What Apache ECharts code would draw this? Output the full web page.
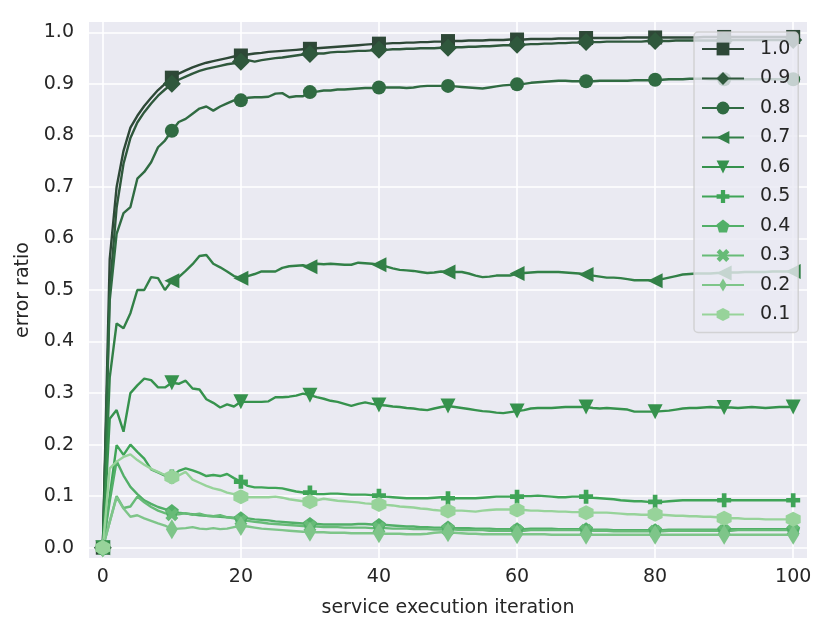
<!DOCTYPE html>
<html>
<head>
  <meta charset="utf-8">
  <title>error ratio</title>
  <script src="https://cdn.jsdelivr.net/npm/echarts@6/dist/echarts.min.js"></script>
  <style>
    html, body { margin: 0; padding: 0; background: #fff; }
    #main { width: 830px; height: 634px; }
  </style>
</head>
<body>
  <div id="main"></div>
  <script>
    // service execution iteration (x)
    var iterations = [0, 1, 2, 3, 4, 5, 6, 7, 8, 9, 10, 11, 12, 13, 14, 15, 16, 17, 18, 19, 20,
      21, 22, 23, 24, 25, 26, 27, 28, 29, 30, 31, 32, 33, 34, 35, 36, 37, 38, 39, 40,
      41, 42, 43, 44, 45, 46, 47, 48, 49, 50, 51, 52, 53, 54, 55, 56, 57, 58, 59, 60,
      61, 62, 63, 64, 65, 66, 67, 68, 69, 70, 71, 72, 73, 74, 75, 76, 77, 78, 79, 80,
      81, 82, 83, 84, 85, 86, 87, 88, 89, 90, 91, 92, 93, 94, 95, 96, 97, 98, 99, 100];

    var seriesNames = ['1.0', '0.9', '0.8', '0.7', '0.6', '0.5', '0.4', '0.3', '0.2', '0.1'];

    var err10 = [0, 0.56, 0.70, 0.77, 0.815, 0.838, 0.857, 0.873, 0.888, 0.900, 0.912,
      0.920, 0.926, 0.932, 0.937, 0.941, 0.944, 0.947, 0.950, 0.953, 0.955,
      0.957, 0.959, 0.960, 0.962, 0.963, 0.964, 0.965, 0.966, 0.967, 0.968,
      0.969, 0.970, 0.971, 0.972, 0.973, 0.974, 0.975, 0.976, 0.977, 0.978,
      0.978, 0.979, 0.979, 0.980, 0.980, 0.981, 0.981, 0.982, 0.982, 0.983,
      0.983, 0.983, 0.984, 0.984, 0.984, 0.985, 0.985, 0.985, 0.986, 0.986,
      0.986, 0.987, 0.987, 0.987, 0.987, 0.988, 0.988, 0.988, 0.988, 0.989,
      0.989, 0.989, 0.989, 0.989, 0.989, 0.990, 0.990, 0.990, 0.990, 0.990,
      0.990, 0.990, 0.990, 0.990, 0.990, 0.990, 0.991, 0.991, 0.991, 0.991,
      0.991, 0.991, 0.991, 0.991, 0.991, 0.991, 0.991, 0.991, 0.991, 0.991];

    var err09 = [0, 0.50, 0.66, 0.745, 0.795, 0.825, 0.845, 0.862, 0.877, 0.889, 0.900,
      0.908, 0.914, 0.920, 0.925, 0.929, 0.932, 0.935, 0.938, 0.940, 0.943,
      0.946, 0.943, 0.946, 0.948, 0.950, 0.951, 0.953, 0.955, 0.957, 0.958,
      0.959, 0.959, 0.961, 0.962, 0.962, 0.963, 0.964, 0.964, 0.965, 0.966,
      0.966, 0.967, 0.967, 0.968, 0.968, 0.969, 0.969, 0.969, 0.970, 0.970,
      0.971, 0.971, 0.972, 0.972, 0.973, 0.973, 0.974, 0.975, 0.975, 0.976,
      0.976, 0.977, 0.977, 0.978, 0.978, 0.979, 0.979, 0.980, 0.980, 0.981,
      0.981, 0.981, 0.982, 0.982, 0.982, 0.982, 0.982, 0.982, 0.983, 0.983,
      0.983, 0.983, 0.984, 0.984, 0.984, 0.984, 0.984, 0.984, 0.984, 0.984,
      0.985, 0.985, 0.985, 0.985, 0.985, 0.985, 0.985, 0.985, 0.985, 0.985];

    var err08 = [0, 0.48, 0.609, 0.649, 0.661, 0.716, 0.729, 0.748, 0.777, 0.790, 0.809,
      0.826, 0.832, 0.842, 0.852, 0.856, 0.848, 0.856, 0.862, 0.868, 0.868,
      0.873, 0.874, 0.874, 0.875, 0.881, 0.882, 0.874, 0.876, 0.876, 0.884,
      0.885, 0.887, 0.887, 0.889, 0.889, 0.890, 0.891, 0.892, 0.892, 0.893,
      0.893, 0.893, 0.893, 0.892, 0.893, 0.895, 0.896, 0.896, 0.896, 0.896,
      0.895, 0.894, 0.893, 0.892, 0.891, 0.893, 0.895, 0.897, 0.898, 0.899,
      0.900, 0.902, 0.903, 0.904, 0.905, 0.906, 0.906, 0.905, 0.905, 0.905,
      0.905, 0.906, 0.906, 0.906, 0.906, 0.906, 0.907, 0.907, 0.907, 0.908,
      0.908, 0.909, 0.909, 0.909, 0.910, 0.910, 0.910, 0.909, 0.909, 0.909,
      0.909, 0.909, 0.909, 0.909, 0.909, 0.909, 0.909, 0.909, 0.909, 0.909];

    var err07 = [0, 0.33, 0.435, 0.426, 0.455, 0.500, 0.500, 0.525, 0.523, 0.500, 0.518,
      0.525, 0.537, 0.550, 0.566, 0.568, 0.551, 0.544, 0.536, 0.527, 0.523,
      0.527, 0.531, 0.536, 0.536, 0.536, 0.543, 0.546, 0.547, 0.548, 0.545,
      0.551, 0.550, 0.551, 0.550, 0.549, 0.549, 0.553, 0.552, 0.551, 0.549,
      0.546, 0.542, 0.539, 0.538, 0.537, 0.535, 0.533, 0.534, 0.536, 0.535,
      0.535, 0.535, 0.532, 0.528, 0.525, 0.526, 0.528, 0.528, 0.528, 0.532,
      0.533, 0.534, 0.535, 0.535, 0.535, 0.535, 0.534, 0.533, 0.532, 0.530,
      0.528, 0.526, 0.524, 0.524, 0.523, 0.521, 0.519, 0.519, 0.519, 0.518,
      0.521, 0.524, 0.527, 0.530, 0.531, 0.532, 0.532, 0.532, 0.533, 0.533,
      0.534, 0.534, 0.535, 0.535, 0.535, 0.535, 0.536, 0.536, 0.536, 0.536];

    var err06 = [0, 0.250, 0.267, 0.225, 0.300, 0.315, 0.328, 0.325, 0.311, 0.311, 0.320,
      0.318, 0.324, 0.309, 0.307, 0.288, 0.281, 0.272, 0.278, 0.274, 0.283,
      0.283, 0.283, 0.283, 0.284, 0.292, 0.292, 0.293, 0.295, 0.299, 0.296,
      0.292, 0.289, 0.285, 0.283, 0.279, 0.275, 0.279, 0.282, 0.279, 0.277,
      0.276, 0.274, 0.273, 0.271, 0.270, 0.268, 0.267, 0.270, 0.273, 0.275,
      0.273, 0.271, 0.269, 0.267, 0.265, 0.264, 0.262, 0.261, 0.263, 0.265,
      0.267, 0.270, 0.271, 0.271, 0.271, 0.272, 0.273, 0.273, 0.273, 0.273,
      0.271, 0.270, 0.271, 0.270, 0.269, 0.268, 0.264, 0.264, 0.264, 0.264,
      0.265, 0.266, 0.268, 0.270, 0.271, 0.271, 0.272, 0.273, 0.272, 0.272,
      0.272, 0.271, 0.272, 0.273, 0.272, 0.271, 0.272, 0.273, 0.273, 0.273];

    var err05 = [0, 0.100, 0.199, 0.180, 0.200, 0.186, 0.173, 0.152, 0.146, 0.140, 0.138,
      0.149, 0.154, 0.150, 0.145, 0.139, 0.141, 0.139, 0.143, 0.135, 0.128,
      0.120, 0.117, 0.117, 0.116, 0.116, 0.115, 0.112, 0.109, 0.107, 0.107,
      0.104, 0.104, 0.105, 0.105, 0.104, 0.103, 0.103, 0.103, 0.102, 0.101,
      0.099, 0.098, 0.097, 0.096, 0.096, 0.096, 0.096, 0.097, 0.098, 0.096,
      0.096, 0.096, 0.096, 0.096, 0.097, 0.098, 0.099, 0.099, 0.099, 0.099,
      0.100, 0.100, 0.101, 0.100, 0.099, 0.098, 0.098, 0.099, 0.099, 0.099,
      0.097, 0.096, 0.095, 0.094, 0.092, 0.091, 0.090, 0.090, 0.089, 0.089,
      0.089, 0.090, 0.091, 0.092, 0.092, 0.092, 0.092, 0.092, 0.092, 0.092,
      0.092, 0.092, 0.092, 0.092, 0.092, 0.092, 0.092, 0.092, 0.092, 0.092];

    var err04 = [0, 0.090, 0.168, 0.140, 0.118, 0.104, 0.092, 0.085, 0.079, 0.075, 0.071,
      0.068, 0.066, 0.065, 0.063, 0.062, 0.061, 0.060, 0.059, 0.058, 0.057,
      0.057, 0.055, 0.054, 0.053, 0.051, 0.050, 0.049, 0.048, 0.047, 0.046,
      0.046, 0.045, 0.045, 0.045, 0.045, 0.045, 0.046, 0.046, 0.045, 0.044,
      0.044, 0.043, 0.042, 0.041, 0.041, 0.040, 0.040, 0.039, 0.039, 0.039,
      0.038, 0.038, 0.038, 0.037, 0.037, 0.037, 0.036, 0.036, 0.036, 0.036,
      0.036, 0.037, 0.037, 0.037, 0.037, 0.036, 0.036, 0.036, 0.036, 0.036,
      0.035, 0.035, 0.035, 0.034, 0.034, 0.034, 0.034, 0.034, 0.034, 0.034,
      0.034, 0.035, 0.035, 0.035, 0.035, 0.035, 0.035, 0.035, 0.035, 0.035,
      0.036, 0.036, 0.036, 0.036, 0.036, 0.036, 0.036, 0.036, 0.036, 0.036];

    var err03 = [0, 0.050, 0.100, 0.077, 0.080, 0.099, 0.088, 0.079, 0.072, 0.067, 0.064,
      0.065, 0.067, 0.064, 0.066, 0.062, 0.061, 0.063, 0.059, 0.057, 0.053,
      0.052, 0.050, 0.049, 0.047, 0.046, 0.045, 0.044, 0.043, 0.042, 0.041,
      0.041, 0.040, 0.040, 0.040, 0.039, 0.039, 0.039, 0.039, 0.038, 0.038,
      0.038, 0.037, 0.037, 0.037, 0.036, 0.036, 0.036, 0.035, 0.035, 0.035,
      0.035, 0.034, 0.034, 0.034, 0.034, 0.033, 0.033, 0.033, 0.033, 0.033,
      0.033, 0.034, 0.034, 0.034, 0.034, 0.034, 0.034, 0.034, 0.034, 0.034,
      0.033, 0.033, 0.033, 0.032, 0.032, 0.032, 0.032, 0.032, 0.032, 0.032,
      0.032, 0.033, 0.033, 0.033, 0.033, 0.033, 0.033, 0.033, 0.033, 0.033,
      0.033, 0.034, 0.034, 0.034, 0.034, 0.034, 0.034, 0.034, 0.034, 0.034];

    var err02 = [0, 0.050, 0.098, 0.076, 0.060, 0.063, 0.057, 0.052, 0.047, 0.043, 0.036,
      0.037, 0.038, 0.040, 0.037, 0.036, 0.038, 0.036, 0.037, 0.040, 0.042,
      0.041, 0.039, 0.037, 0.036, 0.035, 0.034, 0.033, 0.032, 0.031, 0.031,
      0.030, 0.030, 0.029, 0.029, 0.029, 0.028, 0.028, 0.028, 0.028, 0.028,
      0.027, 0.027, 0.027, 0.026, 0.026, 0.026, 0.027, 0.029, 0.030, 0.030,
      0.029, 0.028, 0.027, 0.027, 0.026, 0.026, 0.026, 0.026, 0.026, 0.026,
      0.026, 0.026, 0.026, 0.026, 0.025, 0.025, 0.025, 0.025, 0.025, 0.025,
      0.025, 0.025, 0.025, 0.025, 0.025, 0.025, 0.025, 0.025, 0.025, 0.025,
      0.025, 0.025, 0.025, 0.025, 0.025, 0.025, 0.025, 0.025, 0.025, 0.025,
      0.025, 0.025, 0.025, 0.025, 0.025, 0.025, 0.025, 0.025, 0.025, 0.025];

    var err01 = [0, 0.154, 0.167, 0.176, 0.181, 0.170, 0.161, 0.153, 0.147, 0.141, 0.137,
      0.140, 0.147, 0.132, 0.126, 0.120, 0.115, 0.112, 0.107, 0.104, 0.099,
      0.098, 0.098, 0.098, 0.098, 0.099, 0.097, 0.094, 0.092, 0.090, 0.089,
      0.092, 0.095, 0.093, 0.091, 0.090, 0.089, 0.088, 0.086, 0.085, 0.084,
      0.083, 0.082, 0.080, 0.079, 0.078, 0.076, 0.075, 0.073, 0.072, 0.071,
      0.072, 0.072, 0.071, 0.070, 0.072, 0.073, 0.074, 0.074, 0.074, 0.073,
      0.073, 0.072, 0.072, 0.071, 0.071, 0.070, 0.070, 0.069, 0.069, 0.068,
      0.068, 0.068, 0.068, 0.067, 0.066, 0.065, 0.065, 0.064, 0.064, 0.065,
      0.064, 0.063, 0.062, 0.062, 0.061, 0.061, 0.060, 0.060, 0.059, 0.057,
      0.057, 0.057, 0.056, 0.056, 0.056, 0.055, 0.055, 0.055, 0.055, 0.055];

    var xTicks = [0, 20, 40, 60, 80, 100];
    var yTicks = [0, 0.1, 0.2, 0.3, 0.4, 0.5, 0.6, 0.7, 0.8, 0.9, 1.0];

    var allValues = [err10, err09, err08, err07, err06, err05, err04, err03, err02, err01];

    // seaborn Greens_d, dark -> light
    var colors = ['#2e4837', '#2f583c', '#306b42', '#328047', '#36924d', '#3fa457',
      '#52af68', '#67bb77', '#7ec589', '#97d39a'];

    // matplotlib markers: s D o < v P p X d h
    var markers = [
      { symbol: 'rect', size: 14 },
      { symbol: 'diamond', size: 18 },
      { symbol: 'circle', size: 14 },
      { symbol: 'path://M0,5 L10,0 L10,10 Z', size: 15 },
      { symbol: 'path://M0,0 L10,0 L5,10 Z', size: 15 },
      { symbol: 'path://M2,0 H4 V2 H6 V4 H4 V6 H2 V4 H0 V2 H2 Z', size: 14 },
      { symbol: 'path://M50,0 L97.6,34.5 L79.4,90.5 L20.6,90.5 L2.4,34.5 Z', size: 14 },
      { symbol: 'path://M1,0 L2,1 L3,0 L4,1 L3,2 L4,3 L3,4 L2,3 L1,4 L0,3 L1,2 L0,1 Z', size: 13 },
      { symbol: 'path://M0,5 M10,5 M5,0 L8,5 L5,10 L2,5 Z', size: 20 },
      { symbol: 'path://M43.3,0 L86.6,25 L86.6,75 L43.3,100 L0,75 L0,25 Z', size: 15 }
    ];

    var textColor = '#262626';
    var fontFamily = 'DejaVu Sans';

    var myChart = echarts.init(document.getElementById('main'));

    var series = seriesNames.map(function (name, k) {
      var vals = allValues[k];
      return {
        name: name,
        type: 'line',
        symbol: markers[k].symbol,
        symbolSize: markers[k].size,
        showSymbol: true,
        lineStyle: { color: colors[k], width: 2.4 },
        itemStyle: { color: colors[k], opacity: 1 },
        emphasis: { disabled: true },
        // markers only every 10th iteration
        data: iterations.map(function (x, i) {
          var item = { value: [x, vals[i]] };
          if (x % 10 !== 0) item.symbol = 'none';
          return item;
        })
      };
    });

    var option = {
      animation: false,
      backgroundColor: '#ffffff',
      textStyle: { fontFamily: fontFamily, color: textColor },
      grid: {
        left: 89,
        top: 22,
        width: 718,
        height: 536,
        show: true,
        backgroundColor: '#eaeaf2',
        borderWidth: 0
      },
      legend: {
        orient: 'vertical',
        left: 694,
        top: 32,
        padding: [7, 8, 8, 7],
        itemWidth: 42,
        itemHeight: 16,
        itemGap: 9.5,
        backgroundColor: 'rgba(234,234,242,0.8)',
        borderColor: 'rgba(204,204,204,0.8)',
        borderWidth: 1.5,
        borderRadius: 4,
        selectedMode: false,
        formatter: function (name) { return '{gap| }{txt|' + name + '}'; },
        textStyle: {
          fontFamily: fontFamily,
          fontSize: 19,
          color: textColor,
          lineHeight: 20,
          rich: {
            gap: { width: 11, fontSize: 19, fontFamily: fontFamily },
            txt: { fontSize: 19, fontFamily: fontFamily, color: textColor }
          }
        },
        data: seriesNames
      },
      xAxis: {
        type: 'value',
        min: -2,
        max: 102,
        name: 'service execution iteration',
        nameLocation: 'middle',
        nameGap: 41,
        nameTextStyle: { fontFamily: fontFamily, fontSize: 19, color: textColor },
        axisLine: { show: false },
        axisTick: { show: false, customValues: xTicks },
        axisLabel: {
          customValues: xTicks,
          fontFamily: fontFamily,
          fontSize: 19,
          color: textColor,
          margin: 10
        },
        splitLine: { show: true, lineStyle: { color: '#ffffff', width: 1.6 } }
      },
      yAxis: {
        type: 'value',
        min: -0.02,
        max: 1.02,
        name: 'error ratio',
        nameLocation: 'middle',
        nameGap: 51,
        nameTextStyle: { fontFamily: fontFamily, fontSize: 19, color: textColor },
        axisLine: { show: false },
        axisTick: { show: false, customValues: yTicks },
        axisLabel: {
          customValues: yTicks,
          fontFamily: fontFamily,
          fontSize: 19,
          color: textColor,
          margin: 15,
          formatter: function (v) { return v.toFixed(1); }
        },
        splitLine: { show: true, lineStyle: { color: '#ffffff', width: 1.6 } }
      },
      series: series
    };

    myChart.setOption(option);
  </script>
</body>
</html>
